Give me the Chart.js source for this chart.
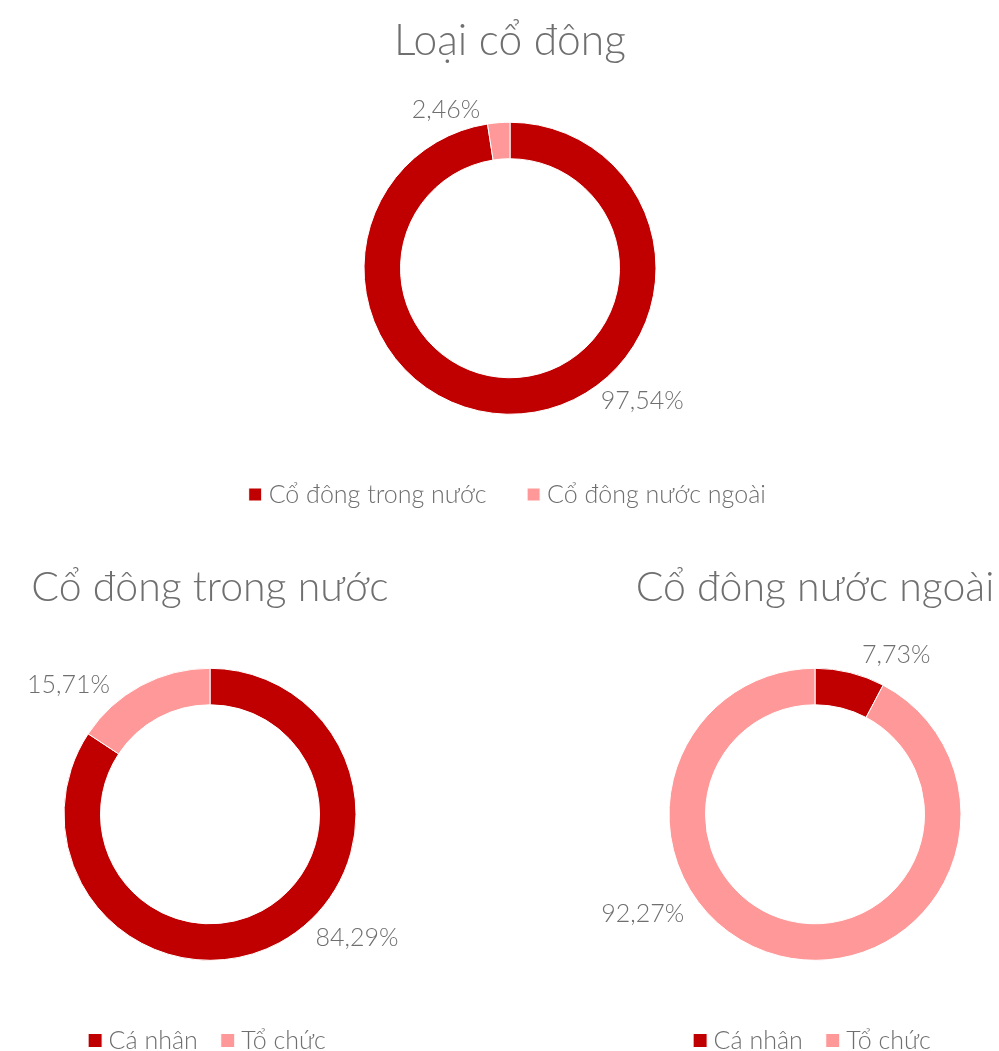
<!DOCTYPE html>
<html lang="vi">
<head>
<meta charset="utf-8">
<title>Cơ cấu cổ đông</title>
<script src="https://cdn.jsdelivr.net/npm/chart.js@4.4.1/dist/chart.umd.min.js"></script>
<style>
  html, body { margin: 0; padding: 0; background: #fff; overflow: hidden; }
  .page { position: relative; width: 999px; height: 1051px; overflow: hidden; }
  .chart-box { position: absolute; }
  .chart-box canvas { display: block; }
</style>
</head>
<body>
<div class="page">
  <div class="chart-box" style="left:110px; top:0px;"><canvas id="loaiChart" width="800" height="517"></canvas></div>
  <div class="chart-box" style="left:0px; top:540px;"><canvas id="trongNuocChart" width="420" height="523"></canvas></div>
  <div class="chart-box" style="left:599px; top:540px;"><canvas id="nuocNgoaiChart" width="432" height="523"></canvas></div>
</div>

<script>
// Cơ cấu cổ đông (%)
const loaiLabels = ['Cổ đông trong nước', 'Cổ đông nước ngoài'];
const loaiValues = [97.54, 2.46];

const trongNuocLabels = ['Cá nhân', 'Tổ chức'];
const trongNuocValues = [84.29, 15.71];

const nuocNgoaiLabels = ['Cá nhân', 'Tổ chức'];
const nuocNgoaiValues = [7.73, 92.27];

const DARK_RED = '#C00000';
const PINK = '#FF9999';
const TEXT_GREY = '#6f6f6f';

// where the percentage labels sit: angle clockwise from 12 o'clock, distance from centre
const loaiSpots = [{ angle: 135, dist: 187 }, { angle: -22, dist: 171 }];
const trongNuocSpots = [{ angle: 130, dist: 192 }, { angle: -47.5, dist: 192 }];
const nuocNgoaiSpots = [{ angle: 27, dist: 179 }, { angle: 240, dist: 199 }];

Chart.defaults.font.family = 'Lato, "Open Sans", sans-serif';
Chart.defaults.font.weight = 300;
Chart.defaults.color = TEXT_GREY;

function formatPct(v) {
    return v.toFixed(2).replace('.', ',') + '%';
}

// percentage text around each ring
const sliceLabels = {
    id: 'sliceLabels',
    afterDatasetsDraw(chart, args, opts) {
        const ctx = chart.ctx;
        const meta = chart.getDatasetMeta(0);
        const values = chart.data.datasets[0].data;
        ctx.save();
        ctx.font = '300 25px Lato, "Open Sans", sans-serif';
        ctx.fillStyle = TEXT_GREY;
        ctx.textAlign = 'center';
        ctx.textBaseline = 'middle';
        meta.data.forEach((arc, i) => {
            const spot = opts.spots[i];
            const a = spot.angle * Math.PI / 180;
            const x = arc.x + Math.sin(a) * spot.dist;
            const y = arc.y - Math.cos(a) * spot.dist;
            ctx.fillText(formatPct(values[i]), x, y);
        });
        ctx.restore();
    }
};

function makeDonut(canvasId, title, labels, values, colors, spots, layout) {
    const ctx = document.getElementById(canvasId).getContext('2d');
    return new Chart(ctx, {
        type: 'doughnut',
        data: {
            labels: labels,
            datasets: [{
                data: values,
                backgroundColor: colors,
                borderColor: '#ffffff',
                borderWidth: 1,
                radius: 146,
                cutout: '75%'
            }]
        },
        options: {
            responsive: false,
            animation: false,
            events: [],
            plugins: {
                title: {
                    display: true,
                    text: title,
                    color: TEXT_GREY,
                    font: { size: layout.titleSize, weight: 300 },
                    padding: { top: layout.titleTop, bottom: layout.titleBottom }
                },
                legend: {
                    position: 'bottom',
                    labels: {
                        usePointStyle: true,
                        pointStyle: 'rect',
                        boxWidth: 2,
                        boxHeight: layout.box,
                        padding: layout.legendGap,
                        color: TEXT_GREY,
                        font: { size: 25, weight: 300 }
                    }
                },
                tooltip: { enabled: false },
                sliceLabels: { spots: spots }
            }
        },
        plugins: [sliceLabels]
    });
}

document.addEventListener('DOMContentLoaded', () => {
    makeDonut('loaiChart', 'Loại cổ đông', loaiLabels, loaiValues, [DARK_RED, PINK], loaiSpots,
        { titleSize: 42.5, titleTop: 15.5, titleBottom: 34, box: 13, legendGap: 46 });
    makeDonut('trongNuocChart', 'Cổ đông trong nước', trongNuocLabels, trongNuocValues, [DARK_RED, PINK], trongNuocSpots,
        { titleSize: 41, titleTop: 23.4, titleBottom: 17, box: 14, legendGap: 29 });
    makeDonut('nuocNgoaiChart', 'Cổ đông nước ngoài', nuocNgoaiLabels, nuocNgoaiValues, [DARK_RED, PINK], nuocNgoaiSpots,
        { titleSize: 41, titleTop: 23.4, titleBottom: 17, box: 14, legendGap: 29 });
});
</script>
</body>
</html>
